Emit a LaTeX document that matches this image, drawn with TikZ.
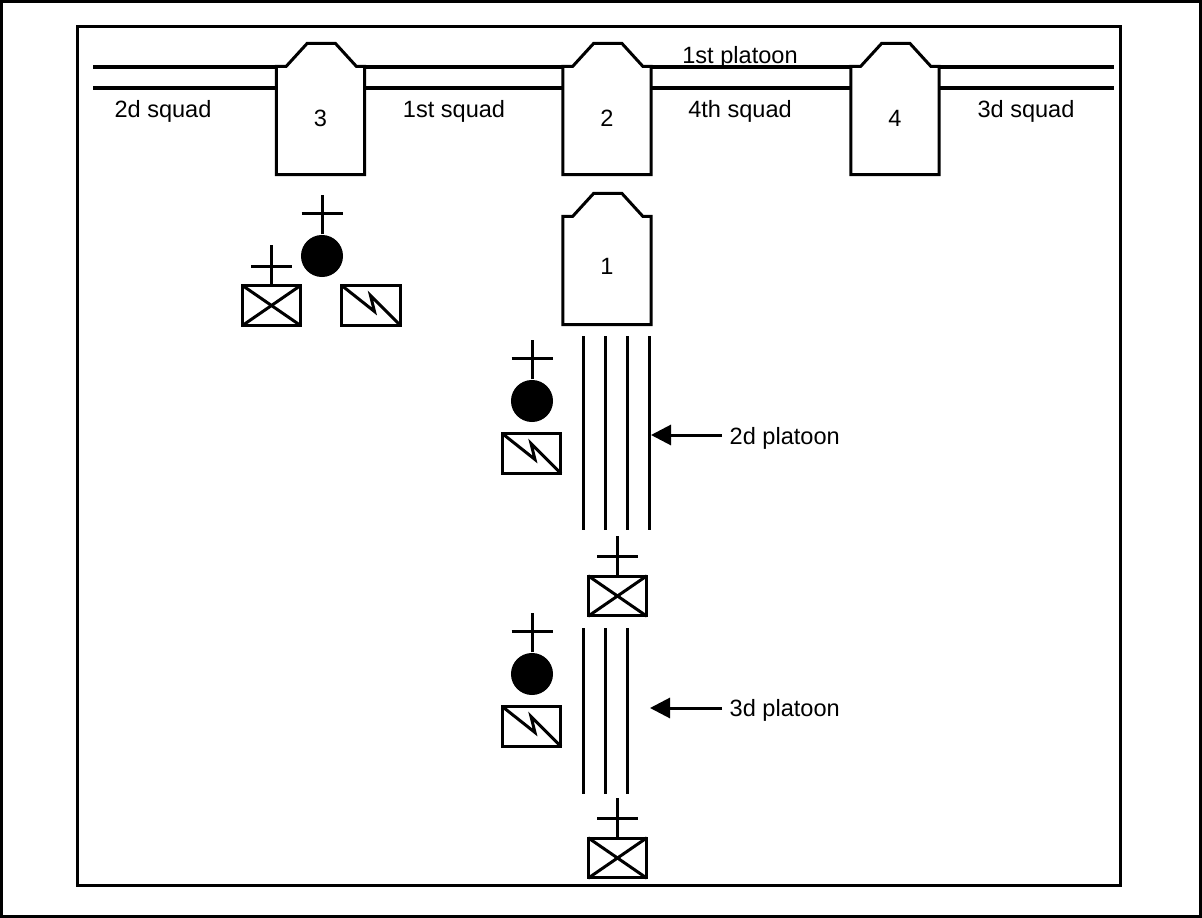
\documentclass[tikz,border=0pt]{standalone}
\usepackage{fontspec}
\setmainfont{Liberation Sans}
\usetikzlibrary{arrows.meta, positioning, calc}

% body of a vehicle, with its turret drawn on top
\newcommand{\vehicle}[5]{%
    \node[hullbox] (#1) at (#2,#3) {};
    \node[lbl] (#1num) at (#2,#5) {#4};
    \draw[heavy] (#1.north west) -- ++(10,0) -- ++(21,-23) -- ++(28,0) -- ++(21,23) -- (#1.north east)
        -- (#1.south east) -- (#1.south west) -- cycle;
}
% cross standing on a node, second argument is the height of its arm
\newcommand{\crossmark}[2]{%
    \draw[heavy] (#1.north) -- ++(0,-39);
    \draw[heavy] ([shift={(-20.5,-#2)}]#1.north) -- ++(41,0);
}
\newcommand{\xbox}[3]{%
    \node[markbox] (#1) at (#2,#3) {};
    \draw[heavy, shorten >=0.4pt, shorten <=0.4pt] (#1.north west) -- (#1.south east);
    \draw[heavy, shorten >=0.4pt, shorten <=0.4pt] (#1.south west) -- (#1.north east);
}
\newcommand{\zapbox}[3]{%
    \node[markbox] (#1) at (#2,#3) {};
    \draw[heavy, shorten >=0.4pt, shorten <=0.4pt] (#1.north west) -- ++(34,27) -- ++(-4,-16) -- (#1.south east);
}

\tikzset{
    heavy/.style={line width=0.03cm, line join=miter},
    hullbox/.style={minimum width=0.87cm, minimum height=1.07cm, inner sep=0pt},
    markbox/.style={draw, heavy, minimum width=0.58cm, minimum height=0.39cm, inner sep=0pt},
    dotmark/.style={circle, fill=black, minimum size=0.42cm, inner sep=0pt},
    lbl/.style={font=\fontsize{6.7}{8}\selectfont, inner sep=0pt},
    pointer/.style={heavy, -{Triangle[length=0.2cm, width=0.2cm]}},
}

\begin{document}
\begin{tikzpicture}[x=0.01cm, y=-0.01cm]
    \useasboundingbox (0,0) rectangle (1202,918);
    \draw[line width=0.03cm] (1.5,1.5) rectangle (1200.5,916.5);
    \draw[line width=0.03cm] (77.5,26.5) rectangle (1120,885);

    % front line
    \vehicle{v3}{320.5}{120.5}{3}{118}
    \vehicle{v2}{607}{120.5}{2}{118}
    \vehicle{v4}{895}{120.5}{4}{118}
    \vehicle{v1}{607}{270.5}{1}{266}

    \coordinate (far1) at (93,67);
    \coordinate (far2) at (93,88);
    \coordinate (end1) at (1114,67);
    \coordinate (end2) at (1114,88);
    \draw[heavy] (far1) -- (far1 -| v3.west);
    \draw[heavy] (far2) -- (far2 -| v3.west);
    \draw[heavy] (far1 -| v3.east) -- (far1 -| v2.west);
    \draw[heavy] (far2 -| v3.east) -- (far2 -| v2.west);
    \draw[heavy] (far1 -| v2.east) -- (far1 -| v4.west);
    \draw[heavy] (far2 -| v2.east) -- (far2 -| v4.west);
    \draw[heavy] (end1 -| v4.east) -- (end1);
    \draw[heavy] (end2 -| v4.east) -- (end2);

    \node[lbl] (sq2) at (163,111) {2d squad};
    \node[lbl] (sq1) at (454,111) {1st squad};
    \node[lbl] (sq4) at (740,111) {4th squad};
    \node[lbl] (sq3) at (1026,111) {3d squad};
    \node[lbl] (pl1) at (740,57) {1st platoon};

    % group by vehicle 3
    \node[dotmark] (d1) at (322,256) {};
    \crossmark{d1}{21}
    \xbox{xb1}{271.5}{305.5}
    \crossmark{xb1}{18}
    \zapbox{zb1}{371}{305.5}

    % 2d platoon
    \node[dotmark] (d2) at (532,401) {};
    \crossmark{d2}{21}
    \zapbox{zb2}{531.5}{453.5}
    \foreach \x in {583,605,627,649} {
        \draw[heavy] (\x,336) -- (\x,530);
    }
    \xbox{xb2}{617.5}{596}
    \crossmark{xb2}{18}
    \coordinate (tip2) at (651,435);
    \node[lbl, anchor=west] (pl2) at (729,438) {2d platoon};
    \draw[pointer] (722,435) -- (tip2);

    % 3d platoon
    \node[dotmark] (d3) at (532,674) {};
    \crossmark{d3}{21}
    \zapbox{zb3}{531.5}{726.5}
    \foreach \x in {583,605,627} {
        \draw[heavy] (\x,628) -- (\x,794);
    }
    \xbox{xb3}{617.5}{858}
    \crossmark{xb3}{18}
    \coordinate (tip3) at (650,708);
    \node[lbl, anchor=west] (pl3) at (729,710) {3d platoon};
    \draw[pointer] (722,708) -- (tip3);
\end{tikzpicture}
\end{document}
